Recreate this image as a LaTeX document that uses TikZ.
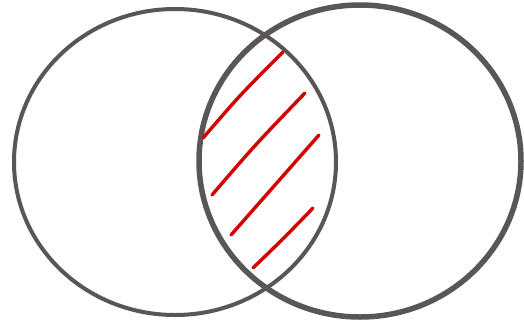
\documentclass[tikz,border=0pt]{standalone}
\definecolor{ringgray}{HTML}{5A5658}
\definecolor{hatchred}{HTML}{D40000}
\begin{document}
\begin{tikzpicture}[x=1pt,y=-1pt,
  ring/.style={draw=ringgray},
  hatch/.style={draw=hatchred,line width=3.4pt,line cap=round}]
\useasboundingbox[fill=white] (0,0) rectangle (524,327);
\draw[ring,line width=4pt] (175,162) ellipse [x radius=161, y radius=153];
\draw[ring,line width=5.5pt] (360,161) ellipse [x radius=161, y radius=156];
\draw[hatch] (203,138) .. controls (240,95) .. (283,52);
\draw[hatch] (212,195) .. controls (255,145) .. (305,93);
\draw[hatch] (231,235) .. controls (275,185) .. (319,135);
\draw[hatch] (253,268) .. controls (285,237) .. (313,208);
\end{tikzpicture}
\end{document}
